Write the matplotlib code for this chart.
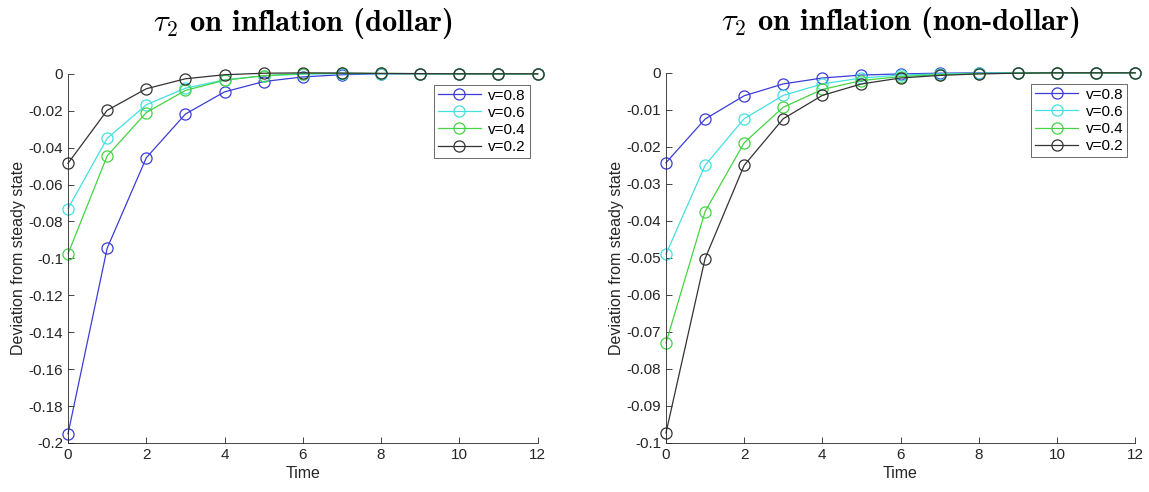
import matplotlib as mpl
mpl.use('Agg')
import matplotlib.pyplot as plt
import numpy as np

time = list(range(13))
labels = ["v=0.8", "v=0.6", "v=0.4", "v=0.2"]
colors = ["#3c3cd8", "#44e0e0", "#44d444", "#333333"]

# tau2 shock, dollar case
dollar_v08 = [-0.195, -0.0945, -0.0455, -0.0218, -0.0098, -0.0042, -0.0017, -0.0005, 0, 0, 0, 0, 0]
dollar_v06 = [-0.073, -0.035, -0.0168, -0.0078, -0.0033, -0.0011, -0.0002, 0.0001, 0, 0, 0, 0, 0]
dollar_v04 = [-0.0975, -0.0445, -0.021, -0.009, -0.0035, -0.001, 0.0001, 0.0003, 0.0002, 0.0001, 0, 0, 0]
dollar_v02 = [-0.0485, -0.0198, -0.0081, -0.0027, -0.0005, 0.0003, 0.0005, 0.0004, 0.0002, 0.0001, 0, 0, 0]

# tau2 shock, non-dollar case
nondollar_v08 = [-0.0243, -0.0125, -0.0062, -0.003, -0.0014, -0.0006, -0.0003, -0.0001, 0, 0, 0, 0, 0]
nondollar_v06 = [-0.049, -0.025, -0.0124, -0.0061, -0.003, -0.0014, -0.0006, -0.0003, -0.0001, 0, 0, 0, 0]
nondollar_v04 = [-0.073, -0.0375, -0.0189, -0.0093, -0.0045, -0.0021, -0.001, -0.0005, -0.0002, -0.0001, 0, 0, 0]
nondollar_v02 = [-0.0973, -0.0502, -0.025, -0.0124, -0.0061, -0.003, -0.0014, -0.0007, -0.0003, -0.0001, 0, 0, 0]

plt.rcParams['font.family'] = 'Liberation Sans'
plt.rcParams['mathtext.fontset'] = 'cm'

fig = plt.figure(figsize=(11.49, 4.92), dpi=100)
ax1 = fig.add_axes([0.0592, 0.0996, 0.4087, 0.7504])
ax2 = fig.add_axes([0.5796, 0.0996, 0.4083, 0.7524])

def draw(ax, series, title, ylim, step):
    for vals, lab, c in zip(series, labels, colors):
        ax.plot(time, vals, color=c, lw=0.9, marker='o', markersize=8,
                markerfacecolor='none', markeredgewidth=0.9, label=lab, clip_on=False)
    ax.set_xlim(0, 12)
    ax.set_ylim(*ylim)
    ax.set_xticks(range(0, 13, 2))
    ax.set_yticks(np.round(np.arange(ylim[0], 1e-9, step), 3))
    ax.yaxis.set_major_formatter(mpl.ticker.FuncFormatter(lambda v, p: '0' if abs(v) < 1e-9 else ('%g' % v)))
    for s in ['top', 'right']:
        ax.spines[s].set_visible(False)
    for s in ['left', 'bottom']:
        ax.spines[s].set_color('#262626')
        ax.spines[s].set_linewidth(0.6)
    ax.tick_params(direction='in', length=4, width=0.6, colors='#262626', labelsize=11)
    ax.set_xlabel("Time", fontsize=11.5, color='#262626', labelpad=3)
    ax.set_ylabel("Deviation from steady state", fontsize=11.5, color='#262626', labelpad=2)
    ax.set_title(title, fontfamily='cmb10', fontsize=22, pad=31)
    leg = ax.legend(loc='upper right', bbox_to_anchor=(0.983, 0.97), fontsize=11,
                    frameon=True, fancybox=False, edgecolor='#262626', handlelength=2.8,
                    borderpad=0.25, labelspacing=0.2, handletextpad=0.5, borderaxespad=0)
    leg.get_frame().set_linewidth(0.6)

draw(ax1, [dollar_v08, dollar_v06, dollar_v04, dollar_v02],
     r"$\tau_2$ on inflation (dollar)", (-0.2, 0), 0.02)
draw(ax2, [nondollar_v08, nondollar_v06, nondollar_v04, nondollar_v02],
     r"$\tau_2$ on inflation (non-dollar)", (-0.1, 0), 0.01)

plt.savefig("out.png", dpi=100)
